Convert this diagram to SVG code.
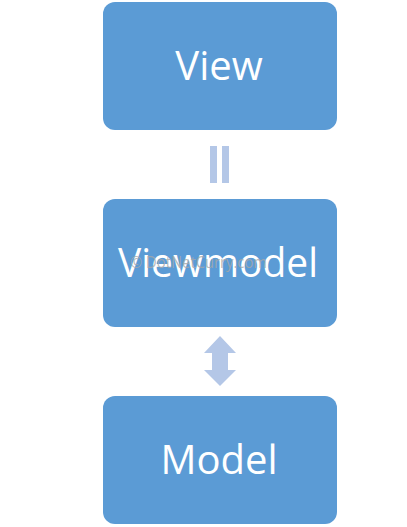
<svg xmlns="http://www.w3.org/2000/svg" width="407" height="527" viewBox="0 0 407 527">
<style>
.box{fill:#5B9BD5}
.lbl{fill:#FFFFFF;font-family:"Open Sans","Noto Sans",sans-serif;font-size:40px;text-anchor:middle}
.conn{fill:#B4C7E7}
.wm{fill:#A8A8A8;fill-opacity:0.8;font-family:"Open Sans","Noto Sans",sans-serif;font-size:17px}
</style>
<rect width="407" height="527" fill="#FFFFFF"/>
<g id="view">
<rect class="box" x="103" y="2" width="234" height="128" rx="12"/>
<text class="lbl" x="219" y="80">View</text>
</g>
<g id="viewmodel">
<rect class="box" x="103" y="199" width="234" height="128" rx="12"/>
<text class="lbl" x="218" y="277" textLength="200" lengthAdjust="spacingAndGlyphs">Viewmodel</text>
</g>
<g id="model">
<rect class="box" x="103" y="396" width="234" height="128" rx="12"/>
<text class="lbl" x="219" y="474">Model</text>
</g>
<g id="connectors">
<rect class="conn" x="210" y="146" width="7" height="37"/>
<rect class="conn" x="222" y="146" width="7" height="37"/>
<path class="conn" d="M220,336 L236,353 L228,353 L228,370 L236,370 L220,386 L204,370 L212,370 L212,353 L204,353 Z"/>
</g>
<text class="wm" x="130" y="268" textLength="137" lengthAdjust="spacingAndGlyphs">© DotNetCurry.com</text>
</svg>
